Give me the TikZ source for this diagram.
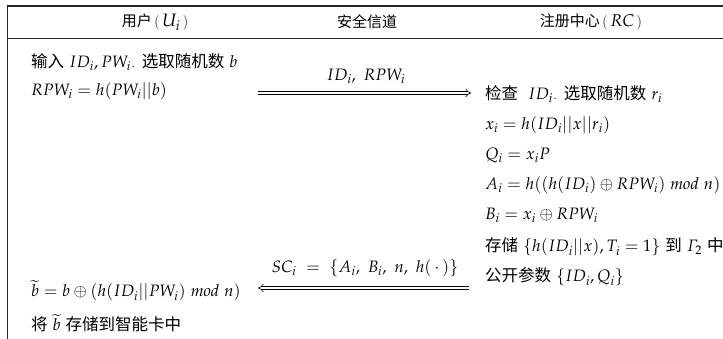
\documentclass[tikz,border=0pt]{standalone}
\usepackage[no-math]{fontspec}
\usepackage{mathpazo}
\newfontfamily\cjk{Noto Sans CJK SC}
\usetikzlibrary{arrows.meta}
\begin{document}
\begin{tikzpicture}[x=1pt,y=-1pt,
  txt/.style={anchor=west, inner sep=0pt, font=\fontsize{16.5}{19}\selectfont},
  hdr/.style={anchor=center, inner sep=0pt, font=\fontsize{15}{18}\selectfont},
  lbl/.style={anchor=center, inner sep=0pt, font=\fontsize{16.5}{19}\selectfont},
  msg/.style={double, double distance=2.2pt, line width=0.6pt, -{Implies}},
  frame/.style={line width=1.1pt, draw=black!85}]
\useasboundingbox (0,0) rectangle (723,339);
% frame
\draw[frame] (7.5,339) -- (7.5,6) -- (723,6);
\draw[frame] (7.5,38.5) -- (723,38.5);
% headers
\node[hdr] (hU) at (155,22) {{\cjk 用户}\,(\,{\fontsize{18}{20}\selectfont$U_i$}\,)};
\node[hdr] (hC) at (367,22) {\cjk 安全信道};
\node[hdr] (hR) at (591,22) {{\cjk 注册中心}\,(\,{\fontsize{17}{20}\selectfont$RC$}\,)};
% user column
\node[txt] (u1) at (31,62) {{\cjk 输入} $ID_i, PW_i$. {\cjk 选取随机数} $b$};
\node[txt] (u2) at (31,91) {$RPW_i = h(PW_i||b)$};
\node[txt] (u3) at (31,291) {$\widetilde{b} = b\oplus(h(ID_i||PW_i)\ \mathit{mod}\ n)$};
\node[txt] (u4) at (31,323) {{\cjk 将} $\widetilde{b}$ {\cjk 存储到智能卡中}};
% RC column
\node[txt] (r1) at (485,94) {{\cjk 检查} \ $ID_i$. {\cjk 选取随机数} $r_i$};
\node[txt] (r2) at (485,125) {$x_i = h(ID_i||x||r_i)$};
\node[txt] (r3) at (485,155) {$Q_i = x_iP$};
\node[txt] (r4) at (485,185) {$A_i = h((h(ID_i)\oplus RPW_i)\ \mathit{mod}\ n)$};
\node[txt] (r5) at (485,215) {$B_i = x_i\oplus RPW_i$};
\node[txt] (r6) at (485,247) {{\cjk 存储} $\{h(ID_i||x), T_i = 1\}$ {\cjk 到} $\mathnormal{\Gamma}_2$ {\cjk 中}};
\node[txt] (r7) at (485,277) {{\cjk 公开参数} $\{ID_i, Q_i\}$};
% messages
\coordinate (a1s) at (258,93);
\coordinate (a1e) at (471,93);
\draw[msg] (a1s) -- (a1e);
\node[lbl] (l1) at (366,76) {$ID_i,\ RPW_i$};
\coordinate (a2s) at (469,288);
\coordinate (a2e) at (258,288);
\draw[msg] (a2s) -- (a2e);
\node[lbl] (l2) at (365,268) {$SC_i\ =\ \{A_i,\ B_i,\ n,\ h(\,\cdot\,)\}$};
\end{tikzpicture}
\end{document}
